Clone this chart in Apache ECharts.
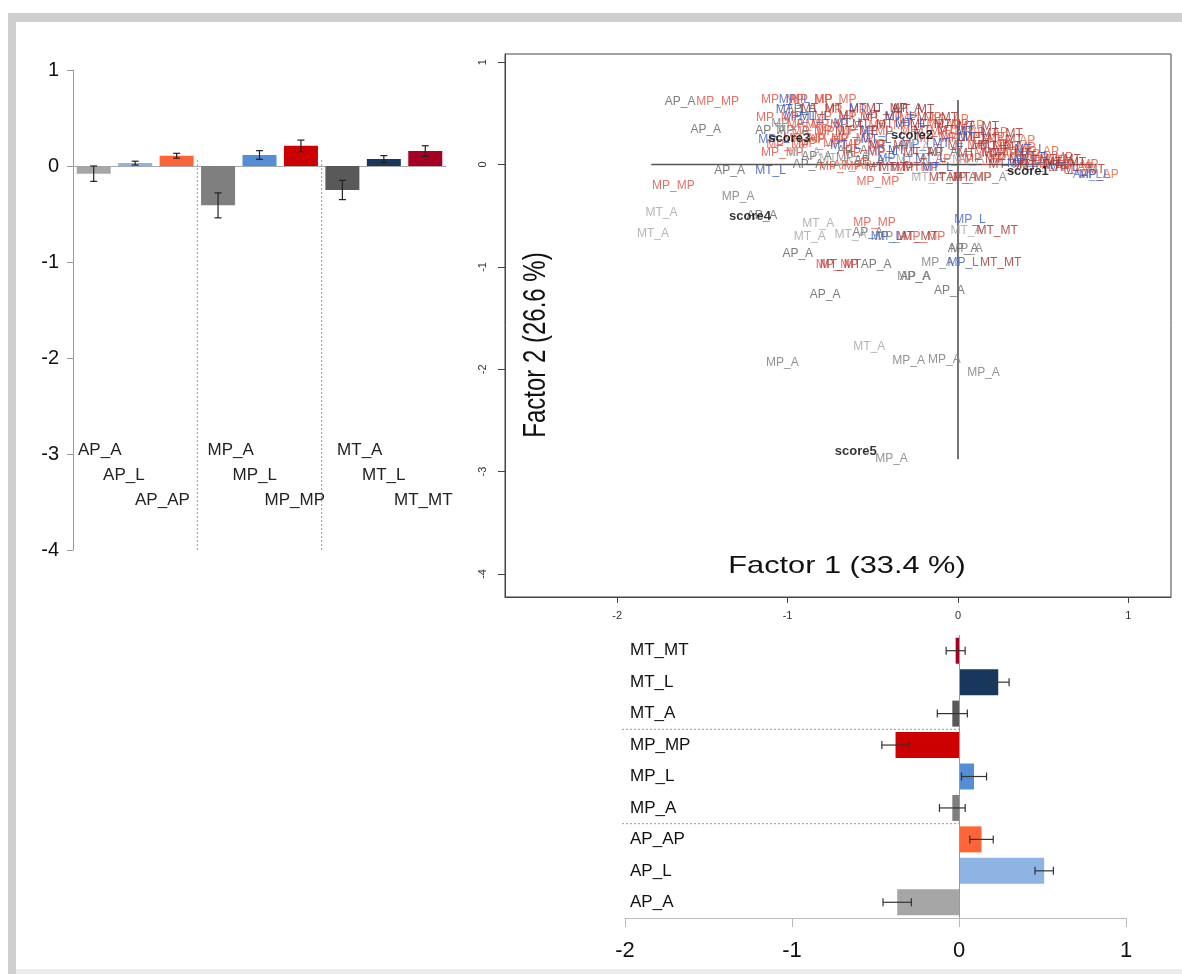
<!DOCTYPE html>
<html><head><meta charset="utf-8">
<script src="https://cdn.jsdelivr.net/npm/echarts@6/dist/echarts.min.js"></script>
<style>html,body{margin:0;padding:0;background:#fff}#c{width:1182px;height:974px}</style>
</head><body><div id="c"></div>
<script>
// ---------------- data ----------------
const groups = ['AP_A','AP_L','AP_AP','MP_A','MP_L','MP_MP','MT_A','MT_L','MT_MT'];
const groupColors = ['#a6a6a6','#8eb4e3','#fd6437','#7f7f7f','#558ed5','#cc0000','#595959','#17375e','#a50021'];
// left panel: mean Factor 2 score per group with error
const factor2Means = [-0.08, 0.03, 0.107, -0.41, 0.115, 0.21, -0.25, 0.073, 0.156];
const factor2Err   = [0.08, 0.02, 0.025, 0.13, 0.045, 0.06, 0.10, 0.035, 0.055];
// bottom panel: mean Factor 1 score per group with error
const factor1Means = [-0.37, 0.51, 0.135, -0.04, 0.09, -0.38, -0.04, 0.235, -0.02];
const factor1Err   = [0.085, 0.055, 0.07, 0.077, 0.075, 0.082, 0.09, 0.065, 0.057];
const groupDividers = [3, 6];
const leftTicks = [1, 0, -1, -2, -3, -4];
const scatterXTicks = [-2, -1, 0, 1];
const scatterYTicks = [1, 0, -1, -2, -3, -4];
const bottomTicks = [-2, -1, 0, 1];
// scatter (factor map)
const scoreLabels = [['score1',0.41,-0.07],['score2',-0.27,0.28],['score3',-0.99,0.26],['score4',-1.22,-0.51],['score5',-0.60,-2.80]];
const refLines = [[[-1.8,0],[0.8,0]], [[0,0.63],[0,-2.88]]];
const samplePoints = [
 [-1.63,0.61,'AP_A'],[-1.41,0.61,'MP_MP'],[-1.48,0.34,'AP_A'],[-1.34,-0.06,'AP_A'],[-1.10,-0.06,'MT_L'],
 [-1.67,-0.21,'MP_MP'],[-1.29,-0.31,'MP_A'],[-1.74,-0.47,'MT_A'],[-1.79,-0.68,'MT_A'],[-1.15,-0.50,'AP_A'],
 [-0.82,-0.58,'MT_A'],[-0.87,-0.70,'MT_A'],[-0.94,-0.87,'AP_A'],[-0.49,-0.57,'MP_MP'],[-0.63,-0.69,'MT_A'],
 [-0.53,-0.67,'AP_A'],[-0.42,-0.70,'MP_L'],[-0.39,-0.70,'MP_A'],[-0.24,-0.70,'MT_MT'],[-0.20,-0.70,'MP_MP'],
 [0.07,-0.54,'MP_L'],[0.05,-0.65,'MT_A'],[0.23,-0.65,'MT_MT'],[0.03,-0.82,'AP_A'],[0.05,-0.82,'MP_A'],
 [-0.12,-0.96,'MP_A'],[0.03,-0.96,'MP_L'],[0.25,-0.96,'MT_MT'],[-0.26,-1.10,'MP_A'],[-0.25,-1.10,'AP_A'],
 [-0.05,-1.23,'AP_A'],[-0.48,-0.98,'AP_A'],[-0.71,-0.98,'MP_MP'],[-0.69,-0.98,'MT_MT'],[-0.78,-1.27,'AP_A'],
 [-0.52,-1.78,'MT_A'],[-0.29,-1.92,'MP_A'],[-0.08,-1.91,'MP_A'],[0.15,-2.03,'MP_A'],[-1.03,-1.94,'MP_A'],
 [-0.39,-2.87,'MP_A'],
 [-1.03,0.63,'MP_MP'],[-0.96,0.63,'MP_L'],[-0.86,0.63,'MP_MP'],[-0.72,0.63,'MP_MP'],
 [-0.98,0.54,'MT_L'],[-0.92,0.55,'AP_A'],[-0.80,0.55,'MT_MT'],[-0.66,0.54,'MP_MP'],[-0.55,0.55,'MT_L'],[-0.42,0.55,'MT_MT'],[-0.30,0.55,'AP_A'],[-0.26,0.54,'MT_MT'],
 [-1.06,0.46,'MP_MP'],[-0.93,0.47,'MP_L'],[-0.84,0.47,'MT_L'],[-0.72,0.47,'MP_MP'],[-0.58,0.48,'MT_MT'],[-0.45,0.46,'MP_MP'],[-0.34,0.47,'MT_L'],[-0.22,0.46,'MP_MP'],[-0.12,0.46,'MT_MT'],[-0.05,0.44,'AP_AP'],
 [-1.00,0.40,'MP_A'],[-0.88,0.39,'MP_MP'],[-0.77,0.39,'MP_MP'],[-0.64,0.40,'MT_L'],[-0.50,0.39,'MT_MT'],[-0.40,0.38,'MP_MP'],[-0.28,0.40,'MT_L'],[-0.16,0.39,'MT_MT'],[-0.06,0.39,'MP_MP'],[0.04,0.38,'AP_AP'],[0.12,0.37,'MT_MT'],
 [-1.10,0.33,'AP_A'],[-0.97,0.33,'MP_A'],[-0.85,0.32,'MP_MP'],[-0.72,0.33,'MP_MP'],[-0.60,0.32,'MT_MT'],[-0.48,0.33,'MP_L'],[-0.36,0.32,'MP_MP'],[-0.14,0.33,'MT_MT'],[-0.04,0.32,'MP_MP'],[0.08,0.32,'MT_L'],[0.18,0.31,'AP_AP'],[0.26,0.30,'MT_MT'],
 [-1.08,0.24,'MP_L'],[-0.90,0.25,'MP_MP'],[-0.76,0.24,'AP_AP'],[-0.62,0.25,'MP_MP'],[-0.48,0.24,'MT_L'],[-0.12,0.25,'MP_MP'],[0.01,0.26,'MP_MP'],[0.09,0.26,'MT_L'],[0.15,0.26,'MP_MP'],[0.26,0.24,'MT_MT'],[0.34,0.23,'AP_AP'],
 [-1.00,0.19,'MP_MP'],[-0.81,0.20,'MP_MP'],[-0.66,0.18,'MT_L'],[-0.55,0.19,'MP_MP'],[-0.40,0.18,'MT_MT'],[-0.24,0.19,'MP_L'],[-0.06,0.20,'MT_L'],[0.06,0.18,'MT_MT'],[0.18,0.18,'MP_MP'],[0.25,0.17,'MT_MT'],[0.33,0.16,'MP_MP'],[0.42,0.15,'MT_L'],[0.48,0.13,'AP_AP'],
 [-1.03,0.12,'MP_MP'],[-0.90,0.12,'MT_A'],[-0.62,0.14,'AP_A'],[-0.55,0.12,'MP_MP'],[-0.44,0.13,'MP_L'],[-0.32,0.14,'MT_L'],[-0.26,0.16,'MT_A'],[-0.20,0.12,'MT_MT'],[-0.09,0.12,'AP_A'],[0.12,0.11,'MT_MT'],[0.22,0.12,'MP_MP'],[0.31,0.11,'MT_MT'],[0.37,0.10,'AP_AP'],[0.45,0.08,'MT_L'],[0.55,0.07,'MP_MP'],[0.60,0.05,'MT_MT'],
 [-0.83,0.08,'AP_A'],[-0.72,0.06,'MT_A'],[-0.62,0.07,'MP_A'],[-0.52,0.04,'AP_A'],[-0.38,0.06,'MP_L'],[-0.27,0.05,'MT_A'],[-0.16,0.06,'MT_L'],[-0.02,0.05,'AP_AP'],[0.06,0.05,'MT_A'],[0.16,0.06,'MP_MP'],[0.28,0.05,'MT_MT'],[0.40,0.04,'AP_L'],[0.51,0.04,'MP_MP'],[0.63,0.02,'MT_MT'],[0.70,0.00,'MP_MP'],
 [-0.88,0.00,'AP_A'],[-0.69,-0.02,'MP_MP'],[-0.62,-0.01,'AP_AP'],[-0.42,-0.03,'MT_MT'],[-0.34,-0.03,'MT_MT'],[-0.24,-0.03,'MP_MP'],[-0.12,-0.03,'MT_L'],[0.30,0.00,'MT_MT'],[0.38,0.01,'MP_L'],[0.48,-0.01,'MT_MT'],[0.56,0.00,'MP_MP'],[0.62,-0.03,'MT_L'],[0.68,-0.03,'AP_AP'],[0.74,-0.05,'MT_MT'],
 [-0.47,-0.17,'MP_MP'],[-0.18,-0.13,'MT_A'],[-0.05,-0.13,'MT_MT'],[0.02,-0.13,'AP_A'],[0.07,-0.13,'MP_MP'],[0.19,-0.13,'MP_A'],[0.76,-0.10,'AP_L'],[0.80,-0.10,'MP_L'],[0.83,-0.10,'AP_AP']
];

// ---------------- style ----------------
const FONT = "'Liberation Sans', Arial, sans-serif";
const sampleColors = {AP_A:'#666666',AP_L:'#5b7fd6',AP_AP:'#e8673f',MP_A:'#808080',MP_L:'#4466d0',MP_MP:'#e0574a',MT_A:'#a8a8a8',MT_L:'#3a56b0',MT_MT:'#a63a3a'};
const labelLevels = [-2.96, -3.22, -3.48];
const labelShift = [-15.7,-32.1,-41.6,-10.5,-27,-36.4,-5.3,-21.8,-31.2];

function vErr(params, api){
  const i = api.value(0), m = api.value(1), e = api.value(2);
  const hi = api.coord([i, m + e]), lo = api.coord([i, m - e]);
  const w = 3.5, st = {stroke:'#222', lineWidth:1.2};
  return {type:'group', children:[
    {type:'line', shape:{x1:hi[0],y1:hi[1],x2:lo[0],y2:lo[1]}, style:st},
    {type:'line', shape:{x1:hi[0]-w,y1:hi[1],x2:hi[0]+w,y2:hi[1]}, style:st},
    {type:'line', shape:{x1:lo[0]-w,y1:lo[1],x2:lo[0]+w,y2:lo[1]}, style:st}]};
}
function hErr(params, api){
  const i = api.value(1), m = api.value(0), e = api.value(2);
  const r = api.coord([m + e, i]), l = api.coord([m - e, i]);
  const h = 4, st = {stroke:'#333', lineWidth:1.2};
  return {type:'group', children:[
    {type:'line', shape:{x1:l[0],y1:l[1],x2:r[0],y2:r[1]}, style:st},
    {type:'line', shape:{x1:l[0],y1:l[1]-h,x2:l[0],y2:l[1]+h}, style:st},
    {type:'line', shape:{x1:r[0],y1:r[1]-h,x2:r[0],y2:r[1]+h}, style:st}]};
}

const series = [];
// left bars
series.push({type:'bar', xAxisIndex:0, yAxisIndex:0, barWidth:34,
  data: factor2Means.map((v,i)=>({value:v, itemStyle:{color:groupColors[i]}}))});
series.push({type:'custom', xAxisIndex:0, yAxisIndex:0, renderItem:vErr, encode:{x:0,y:1},
  data: factor2Means.map((v,i)=>[i, v, factor2Err[i]]), z:5});
series.push({type:'custom', xAxisIndex:0, yAxisIndex:0, encode:{x:0,y:1},
  renderItem:(p,api)=>{const idx=api.value(0); const a=api.coord([idx,0]); const b=api.coord([idx,-4]); const bw=api.size([1,0])[0];
    const x=a[0]-bw/2; return {type:'line', shape:{x1:x,y1:a[1]-6,x2:x,y2:b[1]}, style:{stroke:'#999',lineWidth:1,lineDash:[2,2]}};},
  data: groupDividers.map(d=>[d, 0])});
series.push({type:'custom', xAxisIndex:0, yAxisIndex:0, encode:{x:0,y:1},
  renderItem:(p,api)=>{const i=api.value(0); const c=api.coord([i, labelLevels[i%3]]);
    return {type:'text', x:c[0]+labelShift[i], y:c[1], style:{text:groups[i], fontSize:17, fontFamily:FONT, fill:'#222', align:'left', verticalAlign:'middle'}};},
  data: groups.map((g,i)=>[i, 0])});

// scatter
series.push({type:'line', xAxisIndex:1, yAxisIndex:1, data:refLines[0], symbol:'none', lineStyle:{color:'#555',width:1.6}, z:1});
series.push({type:'line', xAxisIndex:1, yAxisIndex:1, data:refLines[1], symbol:'none', lineStyle:{color:'#555',width:1.6}, z:1});
groups.forEach(g=>{
  series.push({type:'scatter', xAxisIndex:1, yAxisIndex:1, symbolSize:0.1, itemStyle:{color:'transparent'},
    data: samplePoints.filter(p=>p[2]===g).map(p=>({value:[p[0],p[1]], name:p[2]})),
    label:{show:true, position:'inside', formatter:'{b}', color:sampleColors[g], opacity:0.85, fontSize:12, fontFamily:FONT}, z:3});
});
series.push({type:'scatter', xAxisIndex:1, yAxisIndex:1, symbolSize:0.1, itemStyle:{color:'transparent'},
  data: scoreLabels.map(s=>({value:[s[1],s[2]], name:s[0]})),
  label:{show:true, position:'inside', formatter:'{b}', color:'#000', fontWeight:'bold', fontSize:13, fontFamily:FONT}, z:6});

// bottom bars
series.push({type:'bar', xAxisIndex:2, yAxisIndex:2, barWidth:26,
  data: factor1Means.map((v,i)=>({value:v, itemStyle:{color:groupColors[i]}})),
  markLine:{silent:true, symbol:'none', label:{show:false}, lineStyle:{color:'#999',type:'solid',width:1}, data:[{xAxis:0}]}});
series.push({type:'custom', xAxisIndex:2, yAxisIndex:2, renderItem:hErr, encode:{x:0,y:1},
  data: factor1Means.map((v,i)=>[v, i, factor1Err[i]]), z:5});
series.push({type:'custom', xAxisIndex:2, yAxisIndex:2, encode:{x:0,y:1},
  renderItem:(p,api)=>{const idx=api.value(1); const a=api.coord([-2,idx]); const b=api.coord([0,idx]); const bh=api.size([0,1])[1];
    const y=a[1]+bh/2; return {type:'line', shape:{x1:a[0]-3,y1:y,x2:b[0],y2:y}, style:{stroke:'#999',lineWidth:1,lineDash:[2,2]}};},
  data: groupDividers.map(d=>[0, d])});

const option = {
  animation:false,
  textStyle:{fontFamily:FONT},
  grid:[
    {left:73, top:70, width:373, height:480},
    {left:505, top:54, width:666, height:543, show:true, borderColor:'#444', borderWidth:1, backgroundColor:'transparent'},
    {left:625, top:635, width:501, height:283}
  ],
  xAxis:[
    {gridIndex:0, type:'category', data:groups, axisLabel:{show:false}, axisTick:{show:false},
     axisLine:{lineStyle:{color:'#aaa'}}},
    {gridIndex:1, type:'value', min:-2.658, max:1.25, splitLine:{show:false},
     axisLine:{show:true, onZero:false, lineStyle:{color:'#444'}}, axisTick:{show:true, customValues:scatterXTicks, length:6, lineStyle:{color:'#444'}},
     axisLabel:{customValues:scatterXTicks, fontSize:11, color:'#333', margin:13}},
    {gridIndex:2, type:'value', min:-2, max:1, interval:1, splitLine:{show:false},
     axisLine:{show:true, onZero:false, lineStyle:{color:'#bbb'}}, axisTick:{show:true, length:9, lineStyle:{color:'#bbb'}},
     axisLabel:{customValues:bottomTicks, fontSize:22, color:'#111', margin:22}}
  ],
  yAxis:[
    {gridIndex:0, type:'value', min:-4, max:1, interval:1, splitLine:{show:false},
     axisLine:{show:true, onZero:false, lineStyle:{color:'#999'}}, axisTick:{show:true, length:6, lineStyle:{color:'#999'}},
     axisLabel:{customValues:leftTicks, fontSize:20, color:'#111', margin:14}},
    {gridIndex:1, type:'value', min:-4.225, max:1.08, splitLine:{show:false},
     axisLine:{show:true, onZero:false, lineStyle:{color:'#444'}}, axisTick:{show:true, customValues:scatterYTicks, length:7, lineStyle:{color:'#444'}},
     axisLabel:{customValues:scatterYTicks, rotate:90, fontSize:11, color:'#333', margin:17}},
    {gridIndex:2, type:'category', data:groups, axisLine:{show:false}, axisTick:{show:false},
     axisLabel:{inside:true, margin:5, fontSize:17, color:'#111'}}
  ],
  graphic:[
    {type:'rect', shape:{x:8,y:13,width:1174,height:9}, style:{fill:'#cfcfcf'}, silent:true},
    {type:'rect', shape:{x:8,y:13,width:8,height:961}, style:{fill:'#cfcfcf'}, silent:true},
    {type:'rect', shape:{x:16,y:969,width:1166,height:5}, style:{fill:'#ececec'}, silent:true},
    {type:'text', x:847, y:566, scaleX:1.28, style:{text:'Factor 1 (33.4 %)', fontSize:24, fontFamily:FONT, fill:'#111', align:'center', verticalAlign:'middle'}, silent:true},
    {type:'text', x:537, y:345, rotation:Math.PI/2, scaleY:1.28, style:{text:'Factor 2 (26.6 %)', fontSize:24, fontFamily:FONT, fill:'#111', align:'center', verticalAlign:'middle'}, silent:true}
  ],
  series: series
};
const chart = echarts.init(document.getElementById('c'), null, {renderer:'canvas'});
chart.setOption(option);
</script></body></html>
